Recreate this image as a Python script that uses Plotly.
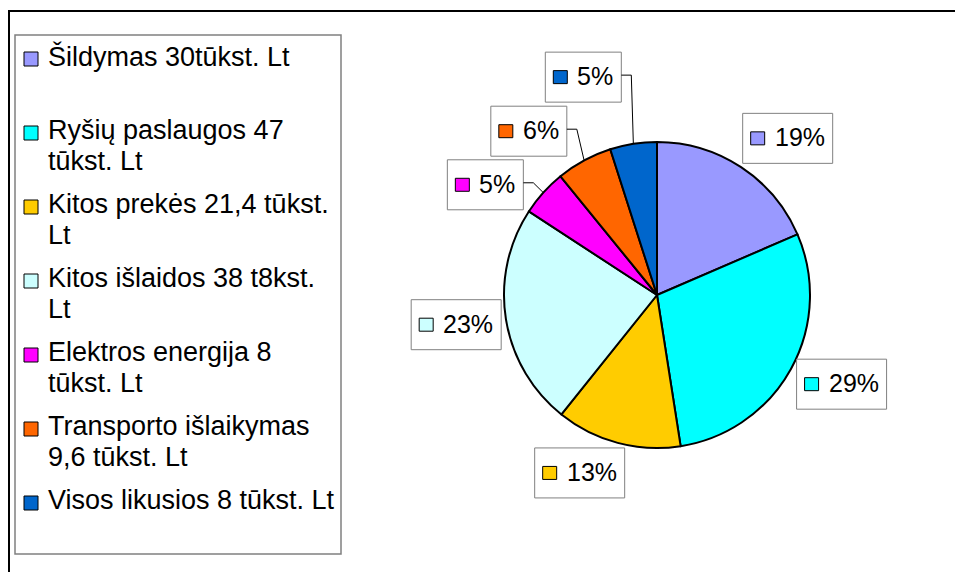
import math
import plotly.graph_objects as go

# Data
labels = [
    "Šildymas 30tūkst. Lt",
    "Ryšių paslaugos 47 tūkst. Lt",
    "Kitos prekės 21,4 tūkst. Lt",
    "Kitos išlaidos 38 t8kst. Lt",
    "Elektros energija 8 tūkst. Lt",
    "Transporto išlaikymas 9,6 tūkst. Lt",
    "Visos likusios 8 tūkst. Lt",
]
values = [30, 47, 21.4, 38, 8, 9.6, 8]
colors = ["#9999FF", "#00FFFF", "#FFCC00", "#CCFFFF", "#FF00FF", "#FF6600", "#0066CC"]

# legend text as it wraps in the box
legend_lines = [
    ["Šildymas 30tūkst. Lt", ""],
    ["Ryšių paslaugos 47", "tūkst. Lt"],
    ["Kitos prekės 21,4 tūkst.", "Lt"],
    ["Kitos išlaidos 38 t8kst.", "Lt"],
    ["Elektros energija 8", "tūkst. Lt"],
    ["Transporto išlaikymas", "9,6 tūkst. Lt"],
    ["Visos likusios 8 tūkst. Lt"],
]

# label box placement (distance from centre in px, angular nudge in deg)
label_dist = [204, 205, 194, 203, 204, 208, 230]
label_nudge = [6.5, -3.1, 8.6, 0.7, -9.3, -9.6, -9.8]
leader = [False, False, False, False, True, True, True]

# page body has an 8px margin, so the figure is shrunk and shifted to fit the window
OFF = 8
W, H = 963 - OFF, 572 - OFF
CX, CY, R = 657, 295, 153
FONT = "Liberation Sans, Arial, sans-serif"


def px(x):
    return (x - OFF) / W


def py(y):
    return 1 - (y - OFF) / H


fig = go.Figure()
fig.add_trace(go.Pie(
    labels=labels,
    values=values,
    sort=False,
    direction="clockwise",
    rotation=0,
    textinfo="none",
    marker=dict(colors=colors, line=dict(color="black", width=2)),
    domain=dict(x=[px(CX - R), px(CX + R)], y=[py(CY + R), py(CY - R)]),
    showlegend=False,
    hovertemplate="%{label}: %{percent}<extra></extra>",
))

shapes = []
annotations = []

# outer frame
shapes.append(dict(type="rect", xref="paper", yref="paper",
                   x0=px(9), x1=px(980), y0=py(590), y1=py(11),
                   line=dict(color="black", width=2)))
# legend box
shapes.append(dict(type="rect", xref="paper", yref="paper",
                   x0=px(15), x1=px(341), y0=py(554), y1=py(35),
                   line=dict(color="#808080", width=1.5), fillcolor="white"))

# legend entries
base = 65
for lines, col in zip(legend_lines, colors):
    shapes.append(dict(type="rect", xref="paper", yref="paper",
                       x0=px(24), x1=px(38), y0=py(base - 13), y1=py(base + 1),
                       line=dict(color="black", width=1), fillcolor=col))
    for i, t in enumerate(lines):
        if t:
            annotations.append(dict(
                x=px(46), y=py(base - 9), xref="paper", yref="paper",
                xanchor="left", yanchor="middle", showarrow=False,
                text=t, font=dict(family=FONT, size=27, color="black")))
        if i < len(lines) - 1:
            base += 31
    base += 43

# percentage label boxes
total = sum(values)
cum = 0
for v, col, d, nud, lead in zip(values, colors, label_dist, label_nudge, leader):
    mid = (cum + v / 2) / total * 360
    cum += v
    pct = f"{round(v / total * 100)}%"
    ang = math.radians(mid + nud)
    bx, by = CX + d * math.sin(ang), CY - d * math.cos(ang)
    bw = 32 + 14 * (len(pct) - 1) + 20 + 10
    x0, x1 = bx - bw / 2, bx + bw / 2
    shapes.append(dict(type="rect", xref="paper", yref="paper",
                       x0=px(x0), x1=px(x1), y0=py(by + 25), y1=py(by - 25),
                       line=dict(color="#808080", width=1), fillcolor="white"))
    shapes.append(dict(type="rect", xref="paper", yref="paper",
                       x0=px(x0 + 8), x1=px(x0 + 22), y0=py(by + 6.5), y1=py(by - 6.5),
                       line=dict(color="black", width=1), fillcolor=col))
    annotations.append(dict(
        x=px(x0 + 30), y=py(by - 1), xref="paper", yref="paper",
        xanchor="left", yanchor="middle", showarrow=False,
        text=pct, font=dict(family=FONT, size=25, color="black")))
    if lead:
        ma = math.radians(mid)
        ex, ey = CX + R * math.sin(ma), CY - R * math.cos(ma)
        path = f"M {px(x1)},{py(by - 2)} L {px(x1 + 10)},{py(by - 2)} L {px(ex)},{py(ey)}"
        shapes.append(dict(type="path", xref="paper", yref="paper", path=path,
                           line=dict(color="black", width=1)))

fig.update_layout(
    width=W, height=H,
    margin=dict(l=0, r=0, t=0, b=0),
    paper_bgcolor="white",
    plot_bgcolor="white",
    shapes=shapes,
    annotations=annotations,
    font=dict(family=FONT),
)

fig.write_html("out.html")
